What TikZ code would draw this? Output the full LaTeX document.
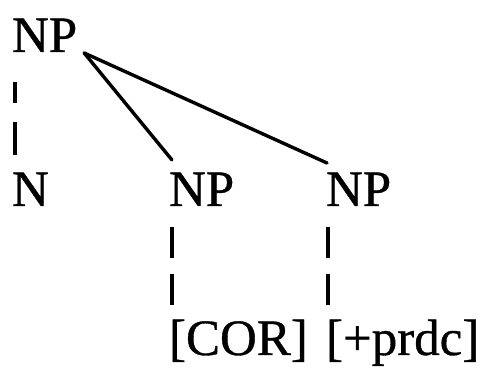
\documentclass[tikz,border=0pt]{standalone}
\usepackage{fontspec}
\setmainfont{Liberation Serif}
\newfontface\heavyserif[FakeBold=0.7]{Liberation Serif}
\begin{document}
\begin{tikzpicture}[x=1pt,y=1pt,
  lab/.style={inner sep=0pt, outer sep=0pt, anchor=base west, font=\fontsize{51}{60}\heavyserif},
  edge/.style={line width=3.4pt, line cap=round},
  dashedge/.style={line width=3.2pt, dash pattern=on 31pt off 16pt}]
\useasboundingbox (0,0) rectangle (483,373);
\node[lab] (np0) at (12,321) {NP};
\node[lab] (n) at (12,167) {N};
\node[lab] (np1) at (169,167) {NP};
\node[lab] (np2) at (326,167) {NP};
\node[lab] (cor) at (169,18) {[COR]};
\node[lab] (prdc) at (326,18) {[+prdc]};
\draw[edge] ([xshift=7pt,yshift=-1pt]np0.base east) -- ([xshift=3pt,yshift=46pt]np1.base west);
\draw[edge] ([xshift=7pt,yshift=-1pt]np0.base east) -- ([xshift=1pt,yshift=43pt]np2.base west);
\draw[line width=3.2pt, dash pattern=on 21pt off 19pt on 40pt off 0pt] ([xshift=3pt,yshift=-30pt]np0.base west) -- ([xshift=3pt,yshift=51pt]n.base west);
\draw[dashedge] ([xshift=3pt,yshift=-21pt]np1.base west) -- ([xshift=3pt,yshift=50pt]cor.base west);
\draw[dashedge] ([xshift=2pt,yshift=-21pt]np2.base west) -- ([xshift=2pt,yshift=50pt]prdc.base west);
\end{tikzpicture}
\end{document}
